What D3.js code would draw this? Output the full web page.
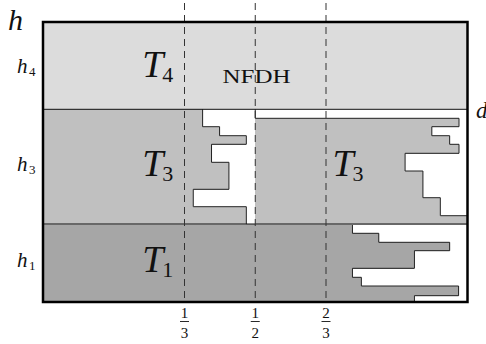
<!DOCTYPE html>
<html>
<head>
<meta charset="utf-8">
<script src="https://cdn.jsdelivr.net/npm/d3@7"></script>
<style>
  body { margin: 0; background: #fff; }
</style>
</head>
<body>
<div id="chart"></div>
<script>
// strip: width 1, height h = 28 units
const stripH = 28;
const shelfNames = ["1", "3", "4"];          // T1, T3, T4
const shelfBottoms = [0, 7.8, 19.27];
const shelfTops = [7.8, 19.27, 28];

// items of shelf T1 (row cuts top -> bottom, right end of each row)
const t1Cuts = [7.8, 6.87, 5.97, 5.13, 3.37, 2.47, 1.6, 0.63, 0];
const t1Ends = [0.729, 0.791, 0.958, 0.875, 0.729, 0.750, 0.979, 0.875];
// shelf T3, left group (starts at 0)
const t3aCuts = [19.27, 17.53, 16.63, 15.77, 13.97, 11.27, 9.53, 7.8];
const t3aEnds = [0.376, 0.416, 0.479, 0.397, 0.438, 0.354, 0.479];
// shelf T3, right group (starts at 1/2)
const t3bCuts = [19.27, 18.37, 17.53, 16.63, 15.77, 14.87, 13.1, 10.43, 8.63, 7.8];
const t3bEnds = [0.5, 0.98, 0.916, 0.958, 0.98, 0.853, 0.895, 0.936, 1.0];

const tickVals = [1/3, 1/2, 2/3];
const tickNum = ["1", "1", "2"];
const tickDen = ["3", "2", "3"];

const W = 486, H = 344;
const serif = '"Liberation Serif"';
const x = d3.scaleLinear().domain([0, 1]).range([43, 467.5]);
const y = d3.scaleLinear().domain([0, stripH]).range([302, 22]);

const svg = d3.select("#chart")
    .append("svg")
        .attr("width", W)
        .attr("height", H);

function txt(px, py, size, italic, s) {
    return svg.append("text")
        .attr("x", px).attr("y", py)
        .style("font-family", serif)
        .style("font-size", size + "px")
        .style("font-style", italic ? "italic" : "normal")
        .style("fill", "#111")
        .text(s);
}

const fills = { "4": "#dcdcdc", "3": "#c0c0c0", "1": "#a6a6a6" };

// T4 is full, the others get white and then their items
svg.selectAll("rect.shelf")
    .data(shelfNames)
    .enter()
    .append("rect")
        .attr("class", "shelf")
        .attr("x", x(0))
        .attr("width", x(1) - x(0))
        .attr("y", (d, i) => y(shelfTops[i]))
        .attr("height", (d, i) => y(shelfBottoms[i]) - y(shelfTops[i]))
        .attr("fill", d => d === "4" ? fills["4"] : "#fff");

function group(cuts, ends, x0, fill) {
    const rows = ends.map((e, i) => ({ top: cuts[i], bot: cuts[i + 1], end: e }));
    svg.append("g")
        .selectAll("rect")
        .data(rows)
        .enter()
        .append("rect")
            .attr("x", x(x0))
            .attr("y", d => y(d.top))
            .attr("width", d => Math.max(0, x(d.end) - x(x0)))
            .attr("height", d => y(d.bot) - y(d.top) + 0.5)
            .attr("fill", fill)
            .attr("shape-rendering", "crispEdges");
    const pts = [];
    rows.forEach(d => { pts.push([d.end, d.top]); pts.push([d.end, d.bot]); });
    svg.append("path")
        .attr("d", d3.line().x(d => x(d[0])).y(d => y(d[1]))(pts))
        .attr("fill", "none")
        .attr("stroke", "#222")
        .attr("stroke-width", 1);
}
group(t1Cuts, t1Ends, 0, fills["1"]);
group(t3aCuts, t3aEnds, 0, fills["3"]);
group(t3bCuts, t3bEnds, 0.5, fills["3"]);

// shelf floors
svg.selectAll("line.floor")
    .data(shelfBottoms.slice(1))
    .enter()
    .append("line")
        .attr("x1", x(0)).attr("x2", x(1))
        .attr("y1", d => y(d)).attr("y2", d => y(d))
        .attr("stroke", "#111")
        .attr("stroke-width", 1);

// dashed fraction lines
svg.selectAll("line.tick")
    .data(tickVals)
    .enter()
    .append("line")
        .attr("x1", d => x(d)).attr("x2", d => x(d))
        .attr("y1", 3).attr("y2", y(0))
        .attr("stroke", "#333")
        .attr("stroke-width", 1)
        .attr("stroke-dasharray", "7,5");

// frame
svg.append("rect")
    .attr("x", x(0)).attr("y", y(stripH))
    .attr("width", x(1) - x(0)).attr("height", y(0) - y(stripH))
    .attr("fill", "none")
    .attr("stroke", "#000")
    .attr("stroke-width", 2.5);

// fraction labels under the strip
tickVals.forEach((v, i) => {
    txt(x(v), 318, 15, false, tickNum[i]).attr("text-anchor", "middle");
    svg.append("line")
        .attr("x1", x(v) - 4.5).attr("x2", x(v) + 4.5)
        .attr("y1", 321.5).attr("y2", 321.5)
        .attr("stroke", "#111").attr("stroke-width", 0.9);
    txt(x(v), 338, 15, false, tickDen[i]).attr("text-anchor", "middle");
});

// h_i labels on the left
const hOff = { "1": 4, "3": 4, "4": 7 };
shelfNames.forEach((s, i) => {
    const yy = y((shelfBottoms[i] + shelfTops[i]) / 2) + hOff[s];
    txt(17, yy, 21, true, "h");
    txt(29, yy + 3, 13, false, s);
});

// T_i labels
const tLab = [
    { s: "1", xv: 0.234, yv: 3.9, off: 9 },
    { s: "3", xv: 0.234, yv: 13.5, off: 9 },
    { s: "3", xv: 0.682, yv: 13.5, off: 9 },
    { s: "4", xv: 0.234, yv: 23.6, off: 11 }
];
tLab.forEach(d => {
    txt(x(d.xv), y(d.yv) + d.off, 38, true, "T");
    txt(x(d.xv) + 20, y(d.yv) + d.off + 5, 22, false, d.s);
});

txt(222.5, 82.5, 19, false, "NFDH")
    .attr("textLength", 68).attr("lengthAdjust", "spacingAndGlyphs");

txt(8, 30, 30, true, "h");
txt(476, 118, 23, true, "d");
</script>
</body>
</html>
